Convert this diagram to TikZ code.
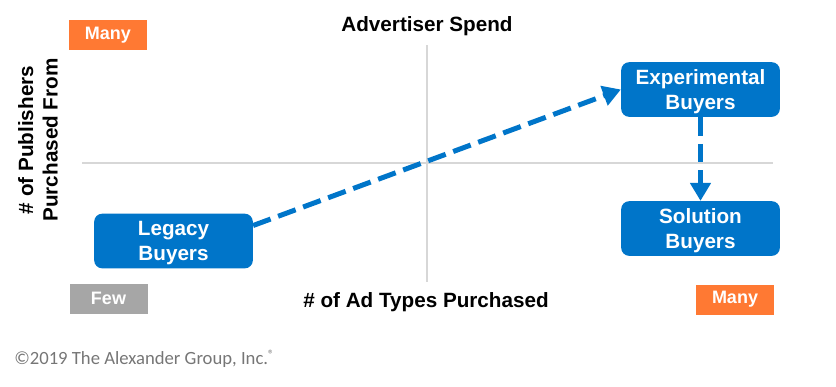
\documentclass[tikz,border=0pt]{standalone}
\usepackage{fontspec}
\setmainfont{Liberation Sans}
\newfontfamily\calibfont{Carlito}
\usetikzlibrary{arrows.meta}

\definecolor{buyerblue}{RGB}{0,117,201}
\definecolor{tagorange}{RGB}{255,121,51}
\definecolor{taggray}{RGB}{166,166,166}
\definecolor{axisgray}{RGB}{215,215,215}
\definecolor{notegray}{RGB}{118,118,118}

\begin{document}
\begin{tikzpicture}[x=0.75pt,y=0.75pt,yscale=-1,xscale=1,
  buyer/.style={fill=buyerblue,rounded corners=6pt,minimum width=119pt,minimum height=41pt,
    inner sep=0pt,align=center,text=white,text depth=0pt,font=\fontsize{15.5}{18.5}\selectfont\bfseries},
  tag/.style={minimum width=58.5pt,minimum height=22.5pt,inner sep=0pt,text=white,
    font=\fontsize{13.5}{16}\selectfont\bfseries},
  title/.style={inner sep=0.75pt,font=\fontsize{15.5}{18.5}\selectfont\bfseries},
  flow/.style={buyerblue,line width=3.75pt,dash pattern={on 14pt off 6pt},
    -{Triangle[length=13.5pt,width=15pt]}}]
\useasboundingbox (0,0) rectangle (836,386);

%Axis ends
\coordinate (ytop) at (427,45);
\coordinate (ybot) at (427,282);
\coordinate (xleft) at (82,163);
\coordinate (xright) at (773,163);
%Straight Lines
\draw [axisgray,line width=1pt] (ytop) -- (ybot) ;
\draw [axisgray,line width=1pt] (xleft) -- (xright) ;

% Tags
\draw (108,35) node [tag,fill=tagorange] (manytop) {Many};
\draw (108.5,298.5) node [tag,fill=taggray] (few) {Few};
\draw (735,299.5) node [tag,fill=tagorange] (manyright) {Many};

% Text Node
\draw (427,26) node [title] (spend) {Advertiser Spend};
% Text Node
\draw (426,302) node [title] (adtypes) {\# of Ad Types Purchased};
% Text Node
\draw (38,140) node [title,rotate=90,align=center] (publishers) {\# of Publishers\\Purchased From};

% Buyers
\draw (173.5,241) node [buyer] (legacy) {Legacy\\Buyers};
\draw (700.5,89.5) node [buyer] (exper) {Experimental\\Buyers};
\draw (700.5,228.5) node [buyer] (solution) {Solution\\Buyers};

%Dashed Arrows
\draw [flow] (legacy.11) -- (exper.west) ;
\draw [flow] (exper.south) -- (solution.north) ;

% Text Node
\draw (14,359) node [anchor=west,inner sep=0pt,text=notegray,font=\fontsize{14}{16}\calibfont] (note) {\textcopyright2019 The Alexander Group, Inc.\raisebox{4pt}{\fontsize{9}{9}\selectfont\textregistered}};

\end{tikzpicture}
\end{document}
